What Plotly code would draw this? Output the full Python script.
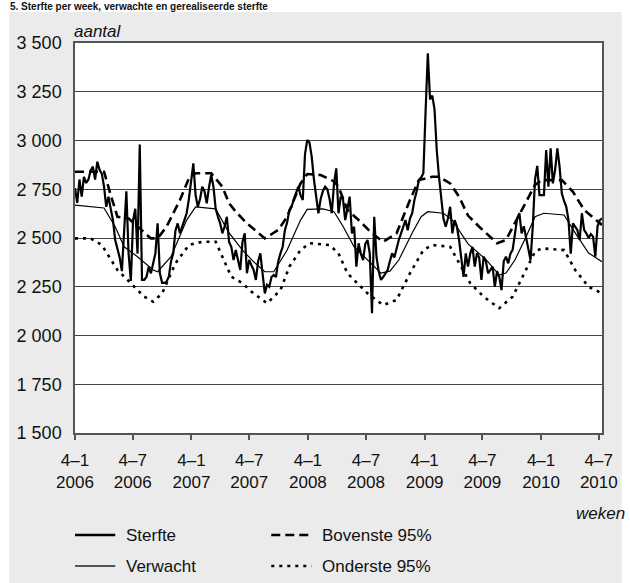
import plotly.graph_objects as go
import pandas as pd

START = pd.Timestamp("2006-01-04")

# Weekly deaths (Sterfte), one value per week starting 4-1-2006
sterfte = [
    2756, 2680, 2800, 2712, 2814, 2782, 2800, 2845, 2866, 2800,
    2891, 2850, 2830, 2763, 2660, 2712, 2650, 2592, 2490, 2440,
    2400, 2330, 2560, 2740, 2420, 2280, 2590, 2650, 2420, 2980,
    2285, 2285, 2300, 2353, 2319, 2380, 2421, 2575, 2320, 2270,
    2270, 2276, 2301, 2380, 2421, 2540, 2575, 2524, 2558, 2590,
    2627, 2700, 2780, 2883, 2720, 2660, 2700, 2763, 2740, 2678,
    2760, 2823, 2763, 2650, 2609, 2575, 2524, 2560, 2609, 2480,
    2455, 2387, 2438, 2380, 2336, 2480, 2524, 2319, 2387, 2360,
    2336, 2285, 2380, 2421, 2300, 2216, 2260, 2250, 2300, 2310,
    2300, 2380, 2421, 2455, 2540, 2580, 2644, 2660, 2700, 2729,
    2763, 2720, 2695, 2930, 3002, 2990, 2917, 2800, 2720, 2627,
    2700, 2740, 2763, 2750, 2700, 2627, 2780, 2857, 2627, 2712,
    2700, 2592, 2650, 2712, 2524, 2558, 2353, 2473, 2420, 2387,
    2470, 2490, 2421, 2114, 2609, 2404, 2330, 2285, 2300, 2319,
    2336, 2380, 2421, 2400, 2450, 2490, 2524, 2560, 2592, 2540,
    2600, 2627, 2695, 2740, 2797, 2810, 2832, 3150, 3447, 3210,
    3230, 3160, 2950, 2814, 2700, 2600, 2558, 2600, 2660, 2524,
    2592, 2560, 2490, 2400, 2301, 2421, 2353, 2420, 2455, 2353,
    2421, 2400, 2285, 2404, 2380, 2319, 2340, 2353, 2250, 2330,
    2300, 2233, 2380, 2404, 2370, 2420, 2440, 2524, 2600, 2627,
    2524, 2560, 2500, 2455, 2387, 2558, 2800, 2870, 2720, 2720,
    2720, 2951, 2763, 2960, 2780, 2850, 2960, 2866, 2729, 2690,
    2660, 2592, 2420, 2575, 2560, 2540, 2490, 2627, 2540, 2524,
    2500, 2520, 2507, 2404, 2560, 2592, 2601,
]

# Expected deaths (Verwacht), read at week indices
verwacht_weeks = [0, 13, 18, 22, 28, 35, 37, 43, 50, 54, 63, 69, 75, 80, 85, 89,
                  95, 101, 104, 111, 116, 120, 125, 131, 137, 141, 145, 151, 155,
                  158, 165, 169, 176, 184, 190, 193, 197, 202, 206, 210, 219, 224,
                  230, 236]
verwacht = [2669, 2654, 2558, 2455, 2404, 2336, 2327, 2404, 2592, 2659, 2649,
            2526, 2438, 2378, 2327, 2327, 2438, 2592, 2647, 2649, 2635, 2560,
            2455, 2387, 2320, 2330, 2387, 2526, 2609, 2635, 2627, 2592, 2470,
            2390, 2310, 2320, 2387, 2507, 2609, 2627, 2618, 2526, 2423, 2378]

# Upper 95% bound (Bovenste 95%)
bovenste_weeks = [0, 13, 16, 19, 24, 34, 37, 41, 47, 51, 54, 61, 66, 69, 72, 77,
                  85, 91, 95, 101, 104, 110, 116, 118, 122, 127, 133, 138, 144,
                  150, 154, 160, 163, 168, 172, 176, 181, 189, 193, 200, 206, 209,
                  218, 223, 228, 236]
bovenste = [2840, 2840, 2720, 2609, 2600, 2498, 2498, 2558, 2695, 2806, 2832,
            2832, 2763, 2678, 2635, 2575, 2498, 2541, 2609, 2780, 2828, 2823,
            2790, 2763, 2644, 2592, 2524, 2481, 2524, 2695, 2797, 2814, 2814,
            2780, 2712, 2615, 2558, 2473, 2490, 2644, 2772, 2797, 2797, 2737,
            2644, 2567]

# Lower 95% bound (Onderste 95%)
onderste_weeks = [0, 7, 12, 19, 25, 31, 35, 39, 45, 51, 57, 63, 66, 70, 75, 79,
                  86, 92, 96, 101, 105, 114, 118, 122, 131, 138, 144, 150, 156,
                  160, 168, 173, 177, 183, 190, 196, 202, 206, 209, 219, 224, 230,
                  236]
onderste = [2498, 2498, 2464, 2336, 2268, 2199, 2173, 2216, 2370, 2464, 2481,
            2481, 2404, 2301, 2268, 2225, 2165, 2233, 2353, 2438, 2473, 2464,
            2421, 2319, 2216, 2156, 2182, 2319, 2438, 2464, 2455, 2353, 2268,
            2199, 2140, 2199, 2336, 2430, 2447, 2438, 2336, 2250, 2216]

tick_dates = ["2006-01-04", "2006-07-04", "2007-01-04", "2007-07-04", "2008-01-04",
              "2008-07-04", "2009-01-04", "2009-07-04", "2010-01-04", "2010-07-04"]
tick_labels = ["4–1<br>2006", "4–7<br>2006", "4–1<br>2007", "4–7<br>2007",
               "4–1<br>2008", "4–7<br>2008", "4–1<br>2009", "4–7<br>2009",
               "4–1<br>2010", "4–7<br>2010"]
y_ticks = [1500, 1750, 2000, 2250, 2500, 2750, 3000, 3250, 3500]
y_labels = ["1 500", "1 750", "2 000", "2 250", "2 500", "2 750", "3 000",
            "3 250", "3 500"]


def to_dates(weeks):
    return [START + pd.Timedelta(days=7 * w) for w in weeks]


FONT = "Liberation Sans, Arial, sans-serif"
W, H = 630, 583
L, R, T, B = 75, 18, 43, 150
PW, PH = W - L - R, H - T - B


def px(xp):
    return (xp - L) / PW


def py(yp):
    return (T + PH - yp) / PH


fig = go.Figure()
fig.add_trace(go.Scatter(x=to_dates(verwacht_weeks), y=verwacht, mode="lines",
                         name="Verwacht", line=dict(color="#000", width=1.2)))
fig.add_trace(go.Scatter(x=to_dates(bovenste_weeks), y=bovenste, mode="lines",
                         name="Bovenste 95%",
                         line=dict(color="#000", width=2.6, dash="9px,5px")))
fig.add_trace(go.Scatter(x=to_dates(onderste_weeks), y=onderste, mode="lines",
                         name="Onderste 95%",
                         line=dict(color="#000", width=2.6, dash="3px,5px")))
fig.add_trace(go.Scatter(x=to_dates(range(len(sterfte))), y=sterfte, mode="lines",
                         name="Sterfte", line=dict(color="#000", width=2.2)))

shapes = [
    dict(type="rect", xref="paper", yref="paper", x0=px(8), x1=px(632),
         y0=py(585), y1=py(12), fillcolor="#ebebeb", line=dict(width=0),
         layer="below"),
    dict(type="rect", xref="paper", yref="paper", x0=0, x1=1, y0=0, y1=1,
         fillcolor="white", line=dict(width=0), layer="below"),
]

legend_items = [
    ("Sterfte", 75, 116, 535, dict(color="#000", width=2.6, dash="solid")),
    ("Verwacht", 75, 116, 566, dict(color="#222", width=1.4, dash="solid")),
    ("Bovenste 95%", 275, 316, 535, dict(color="#000", width=2.6, dash="9px,5px")),
    ("Onderste 95%", 275, 316, 566, dict(color="#000", width=2.6, dash="3px,5px")),
]
annotations = []
for name, x0, x1, yy, ln in legend_items:
    shapes.append(dict(type="line", xref="paper", yref="paper", x0=px(x0),
                       x1=px(x1), y0=py(yy), y1=py(yy), line=ln))
    annotations.append(dict(text=name, xref="paper", yref="paper", x=px(x1 + 9),
                            y=py(yy), xanchor="left", yanchor="middle",
                            showarrow=False,
                            font=dict(family=FONT, size=17, color="#111")))

annotations += [
    dict(text="aantal", xref="paper", yref="paper", x=px(72), y=py(31),
         xanchor="left", yanchor="middle", showarrow=False,
         font=dict(family=FONT, size=17, color="#111", style="italic")),
    dict(text="weken", xref="paper", yref="paper", x=px(637), y=py(513),
         xanchor="right", yanchor="middle", showarrow=False,
         font=dict(family=FONT, size=17, color="#111", style="italic")),
    dict(text="<b>5. Sterfte per week, verwachte en gerealiseerde sterfte</b>",
         xref="paper", yref="paper", x=px(8), y=py(0), xanchor="left",
         yanchor="top", showarrow=False, borderpad=0,
         font=dict(family=FONT, size=10, color="#111")),
]

fig.update_layout(
    width=W, height=H,
    margin=dict(l=L, r=R, t=T, b=B, pad=0),
    paper_bgcolor="white", plot_bgcolor="white",
    showlegend=False,
    shapes=shapes, annotations=annotations,
    font=dict(family=FONT, size=17, color="#111"),
    xaxis=dict(type="date", range=[START, START + pd.Timedelta(days=7 * 236)],
               tickvals=tick_dates, ticktext=tick_labels, showgrid=False,
               ticks="outside", ticklen=5, tickwidth=1.5, tickcolor="#555",
               showline=True, linecolor="#555", linewidth=1.5, mirror=True,
               zeroline=False, ticklabelstandoff=6, tickfont=dict(size=17)),
    yaxis=dict(range=[1500, 3500], tickvals=y_ticks, ticktext=y_labels,
               showgrid=True, gridcolor="#444", gridwidth=1, ticks="",
               showline=True, linecolor="#555", linewidth=1.5, mirror=True,
               zeroline=False, ticklabelstandoff=8, tickfont=dict(size=18)),
)

fig.write_html("out.html", config={"displayModeBar": False},
               post_script="document.body.style.margin='0px';")
